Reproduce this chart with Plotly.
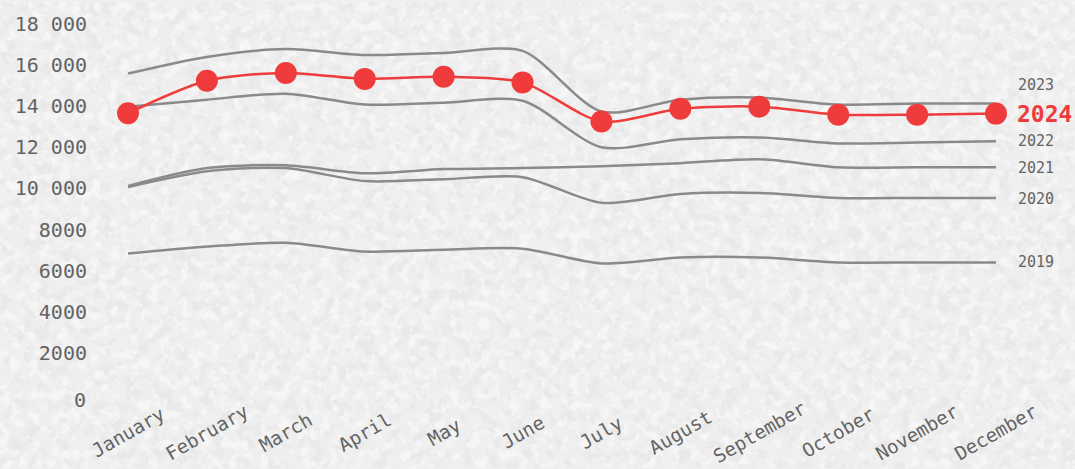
import urllib.parse
import plotly.graph_objects as go

months = ["January", "February", "March", "April", "May", "June",
          "July", "August", "September", "October", "November", "December"]

sales_2019 = [6830, 7170, 7360, 6930, 7020, 7070, 6350, 6640, 6640, 6400, 6400, 6400]
sales_2020 = [10070, 10840, 10990, 10360, 10450, 10550, 9300, 9730, 9780, 9540, 9540, 9540]
sales_2021 = [10120, 10990, 11130, 10740, 10940, 10990, 11080, 11230, 11420, 11030, 11030, 11030]
sales_2022 = [13980, 14320, 14610, 14080, 14170, 14270, 12000, 12390, 12480, 12190, 12240, 12290]
sales_2023 = [15590, 16400, 16780, 16490, 16590, 16690, 13740, 14320, 14420, 14080, 14130, 14130]
sales_2024 = [13660, 15240, 15620, 15330, 15430, 15160, 13260, 13880, 13980, 13590, 13590, 13640]

past_years = ["2019", "2020", "2021", "2022", "2023"]
past_sales = [sales_2019, sales_2020, sales_2021, sales_2022, sales_2023]
current_year = "2024"

y_tickvals = [0, 2000, 4000, 6000, 8000, 10000, 12000, 14000, 16000, 18000]
y_ticktext = ["0", "2000", "4000", "6000", "8000", "10 000", "12 000", "14 000", "16 000", "18 000"]

FONT = "DejaVu Sans Mono"
GREY = "#8a8a8a"
RED = "#ef3b3b"
TEXT = "#636363"

x = list(range(len(months)))
fig = go.Figure()

for name, vals in zip(past_years, past_sales):
    fig.add_trace(go.Scatter(
        x=x, y=vals, mode="lines", name=name,
        line=dict(color=GREY, width=2.5, shape="spline", smoothing=0.8),
        cliponaxis=False, showlegend=False, hoverinfo="skip"))

fig.add_trace(go.Scatter(
    x=x, y=sales_2024, mode="lines+markers", name=current_year,
    line=dict(color=RED, width=2.5, shape="spline", smoothing=0.8),
    marker=dict(color=RED, size=22),
    cliponaxis=False, showlegend=False))

annotations = []
for i, m in enumerate(months):
    annotations.append(dict(
        x=i, y=0, xref="x", yref="paper", text=m, showarrow=False,
        textangle=-30, xanchor="center", yanchor="middle", yshift=-38,
        font=dict(family=FONT, size=19, color=TEXT)))

# the zero label of the y axis sits a little lower than the axis baseline
annotations.append(dict(
    x=0, y=y_tickvals[0], xref="paper", yref="y", text=y_ticktext[0],
    showarrow=False, xanchor="right", yanchor="middle", xshift=-40, yshift=-6,
    font=dict(family=FONT, size=20, color=TEXT)))

label_shift = {"2019": 0, "2020": -1, "2021": -1, "2022": 0, "2023": 19}
for name, vals in zip(past_years, past_sales):
    annotations.append(dict(
        x=len(months) - 1, y=vals[-1], xref="x", yref="y", text=name,
        showarrow=False, xanchor="left", yanchor="middle", xshift=20,
        yshift=label_shift[name],
        font=dict(family=FONT, size=15, color=TEXT)))
annotations.append(dict(
    x=len(months) - 1, y=sales_2024[-1], xref="x", yref="y",
    text="<b>" + current_year + "</b>", showarrow=False, xanchor="left",
    yanchor="middle", xshift=19,
    font=dict(family=FONT, size=23, color=RED)))

svg = (
    "<svg xmlns='http://www.w3.org/2000/svg' width='1075' height='469'>"
    "<filter id='d' x='0' y='0' width='100%' height='100%'>"
    "<feTurbulence type='fractalNoise' baseFrequency='0.08' numOctaves='3' seed='7'/>"
    "<feColorMatrix type='matrix' values='0 0 0 0 0.45 0 0 0 0 0.45 0 0 0 0 0.45 7 0 0 0 -3.5'/>"
    "</filter>"
    "<filter id='l' x='0' y='0' width='100%' height='100%'>"
    "<feTurbulence type='fractalNoise' baseFrequency='0.1' numOctaves='3' seed='21'/>"
    "<feColorMatrix type='matrix' values='0 0 0 0 1 0 0 0 0 1 0 0 0 0 1 7 0 0 0 -3.6'/>"
    "</filter>"
    "<rect width='1075' height='469' fill='#efefef'/>"
    "<rect width='1075' height='469' filter='url(#d)' opacity='0.09'/>"
    "<rect width='1075' height='469' filter='url(#l)' opacity='0.45'/>"
    "</svg>"
)
bg_src = "data:image/svg+xml;charset=utf-8," + urllib.parse.quote(svg)

L, R, T, B = 128, 79, 22, 75
W, H = 1075, 469
pw, ph = W - L - R, H - T - B

fig.update_layout(
    width=W, height=H,
    margin=dict(l=L, r=R, t=T, b=B, pad=0),
    paper_bgcolor="#efefef",
    plot_bgcolor="rgba(0,0,0,0)",
    font=dict(family=FONT, color=TEXT),
    annotations=annotations,
    images=[dict(source=bg_src, xref="paper", yref="paper",
                 x=-L / pw, y=1 + T / ph, sizex=W / pw, sizey=H / ph,
                 sizing="stretch", layer="below", xanchor="left", yanchor="top")],
    xaxis=dict(range=[0, len(months) - 1], showticklabels=False, showgrid=False,
               zeroline=False, showline=False, ticks=""),
    yaxis=dict(range=[0, 18000], tickvals=y_tickvals[1:], ticktext=y_ticktext[1:],
               showgrid=False, zeroline=False, showline=False, ticks="",
               ticklabelstandoff=40,
               tickfont=dict(family=FONT, size=20, color=TEXT)),
)

fig.write_html(
    "out.html",
    config={"displayModeBar": False},
    post_script="document.body.style.margin='0';document.body.style.overflow='hidden';"
                "document.body.style.background='#efefef';",
)
